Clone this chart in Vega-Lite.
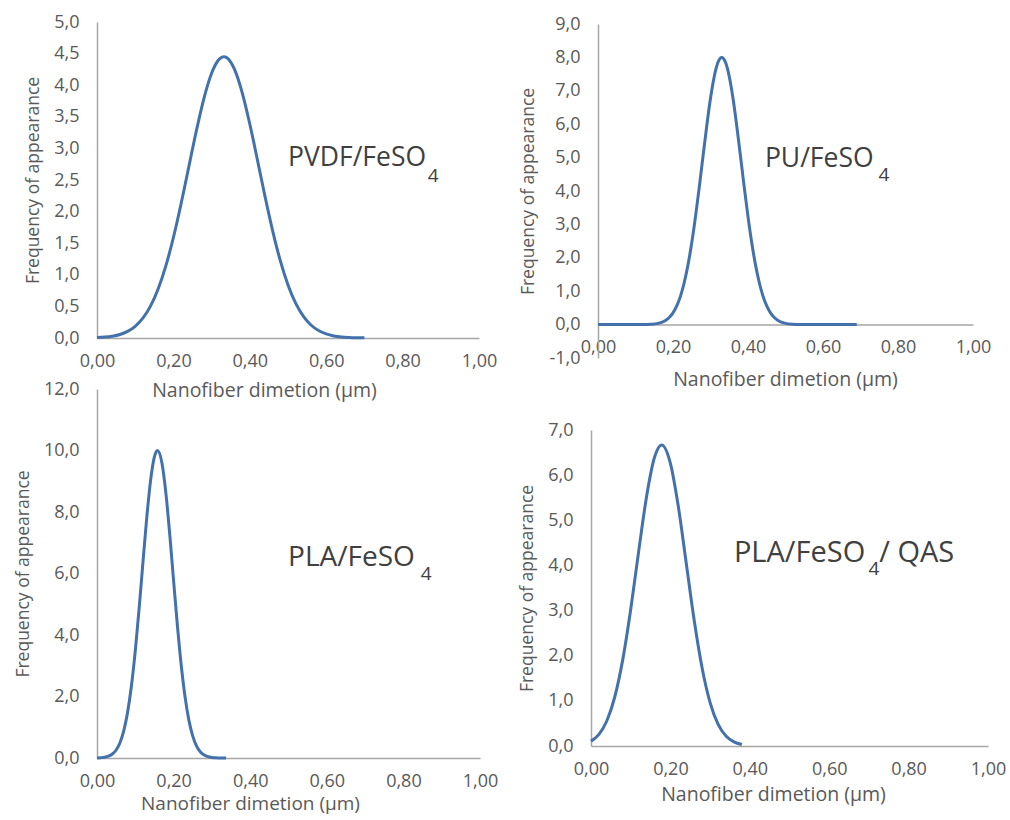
{
  "$schema": "https://vega.github.io/schema/vega-lite/v6.json",
  "padding": {"left": 14, "top": 13, "right": 0, "bottom": 2},
  "config": {
    "locale": {"number": {"decimal": ",", "thousands": ".", "grouping": [3], "currency": ["", ""], "minus": "-"}},
    "view": {"stroke": null},
    "font": "Open Sans",
    "axis": {"domainColor": "#A6A6A6", "domainWidth": 1.5, "ticks": false, "tickSize": 0, "grid": false, "labelColor": "#595959", "titleColor": "#595959", "labelFont": "Open Sans", "titleFont": "Open Sans", "labelFontSize": 18, "titleFontWeight": "normal", "labelFlush": false, "labelOverlap": false},
    "axisX": {"labelPadding": 14, "titlePadding": 13, "titleFontSize": 19.5},
    "axisY": {"labelPadding": 18, "titlePadding": 11, "titleFontSize": 17.5}
  },
  "columns": 2,
  "align": "none",
  "bounds": "flush",
  "spacing": {"row": 10, "column": 111},
  "concat": [
    {
      "width": 382, "height": 316,
      "encoding": {
        "x": {"field": "x", "type": "quantitative", "scale": {"domain": [0, 1]}, "axis": {"values": [0, 0.2, 0.4, 0.6, 0.8, 1], "format": ".2f", "title": "Nanofiber dimetion (µm)", "titleX": 167, "titlePadding": 11}},
        "y": {"field": "y", "type": "quantitative", "scale": {"domain": [0, 5]}, "axis": {"values": [0, 0.5, 1, 1.5, 2, 2.5, 3, 3.5, 4, 4.5, 5], "format": ".1f", "title": "Frequency of appearance"}}
      },
      "layer": [
        {
          "data": {"values": [
            {"x": 0, "y": 0.007}, {"x": 0.02, "y": 0.014}, {"x": 0.04, "y": 0.029}, {"x": 0.06, "y": 0.056}, {"x": 0.08, "y": 0.105}, {"x": 0.10, "y": 0.185}, {"x": 0.12, "y": 0.313}, {"x": 0.14, "y": 0.504}, {"x": 0.16, "y": 0.775}, {"x": 0.18, "y": 1.137}, {"x": 0.20, "y": 1.59}, {"x": 0.22, "y": 2.121}, {"x": 0.24, "y": 2.699}, {"x": 0.26, "y": 3.276}, {"x": 0.28, "y": 3.793}, {"x": 0.30, "y": 4.189}, {"x": 0.32, "y": 4.412}, {"x": 0.332, "y": 4.45}, {"x": 0.34, "y": 4.433}, {"x": 0.36, "y": 4.249}, {"x": 0.38, "y": 3.884}, {"x": 0.40, "y": 3.386}, {"x": 0.42, "y": 2.816}, {"x": 0.44, "y": 2.234}, {"x": 0.46, "y": 1.691}, {"x": 0.48, "y": 1.22}, {"x": 0.50, "y": 0.84}, {"x": 0.52, "y": 0.551}, {"x": 0.54, "y": 0.345}, {"x": 0.56, "y": 0.206}, {"x": 0.58, "y": 0.118}, {"x": 0.60, "y": 0.064}, {"x": 0.62, "y": 0.033}, {"x": 0.64, "y": 0.016}, {"x": 0.66, "y": 0.008}, {"x": 0.68, "y": 0.004}, {"x": 0.70, "y": 0.002}
          ]},
          "mark": {"type": "line", "interpolate": "monotone", "strokeWidth": 3, "color": "#4271AC"}
        },
        {
          "data": {"values": [{"x": 0.5, "y": 2.72, "label": "PVDF/FeSO"}]},
          "mark": {"type": "text", "align": "left", "baseline": "alphabetic", "fontSize": 26.5, "color": "#404040", "font": "Open Sans"},
          "encoding": {"text": {"field": "label"}}
        },
        {
          "data": {"values": [{"x": 0.866, "y": 2.47, "label": "4"}]},
          "mark": {"type": "text", "align": "left", "baseline": "alphabetic", "fontSize": 19, "color": "#404040", "font": "Open Sans"},
          "encoding": {"text": {"field": "label"}}
        }
      ]
    },
    {
      "width": 382, "height": 357,
      "encoding": {
        "x": {"field": "x", "type": "quantitative", "scale": {"domain": [0, 1], "range": [7, 382]}, "axis": {"values": [0, 0.2, 0.4, 0.6, 0.8, 1], "format": ".2f", "title": "Nanofiber dimetion (µm)", "offset": -54.4, "titleX": 194, "titlePadding": 14}},
        "y": {"field": "y", "type": "quantitative", "scale": {"domain": [-1, 9], "range": [336, 2]}, "axis": {"values": [-1, 0, 1, 2, 3, 4, 5, 6, 7, 8, 9], "format": ".1f", "title": "Frequency of appearance", "offset": -7}}
      },
      "layer": [
        {
          "data": {"values": [
            {"x": 0, "y": 0}, {"x": 0.05, "y": 0}, {"x": 0.10, "y": 0}, {"x": 0.12, "y": 0.002}, {"x": 0.14, "y": 0.01}, {"x": 0.16, "y": 0.038}, {"x": 0.18, "y": 0.125}, {"x": 0.19, "y": 0.213}, {"x": 0.20, "y": 0.351}, {"x": 0.21, "y": 0.558}, {"x": 0.22, "y": 0.853}, {"x": 0.23, "y": 1.26}, {"x": 0.24, "y": 1.789}, {"x": 0.25, "y": 2.45}, {"x": 0.26, "y": 3.233}, {"x": 0.27, "y": 4.11}, {"x": 0.28, "y": 5.038}, {"x": 0.29, "y": 5.95}, {"x": 0.30, "y": 6.774}, {"x": 0.31, "y": 7.43}, {"x": 0.32, "y": 7.854}, {"x": 0.33, "y": 8.0}, {"x": 0.34, "y": 7.854}, {"x": 0.35, "y": 7.43}, {"x": 0.36, "y": 6.774}, {"x": 0.37, "y": 5.95}, {"x": 0.38, "y": 5.038}, {"x": 0.39, "y": 4.11}, {"x": 0.40, "y": 3.233}, {"x": 0.41, "y": 2.45}, {"x": 0.42, "y": 1.789}, {"x": 0.43, "y": 1.26}, {"x": 0.44, "y": 0.853}, {"x": 0.45, "y": 0.558}, {"x": 0.46, "y": 0.351}, {"x": 0.47, "y": 0.213}, {"x": 0.48, "y": 0.125}, {"x": 0.50, "y": 0.038}, {"x": 0.52, "y": 0.01}, {"x": 0.54, "y": 0.002}, {"x": 0.56, "y": 0}, {"x": 0.60, "y": 0}, {"x": 0.65, "y": 0}, {"x": 0.69, "y": 0}
          ]},
          "mark": {"type": "line", "interpolate": "monotone", "strokeWidth": 3, "color": "#4271AC"}
        },
        {
          "data": {"values": [{"x": 0.445, "y": 4.72, "label": "PU/FeSO"}]},
          "mark": {"type": "text", "align": "left", "baseline": "alphabetic", "fontSize": 26.5, "color": "#404040", "font": "Open Sans"},
          "encoding": {"text": {"field": "label"}}
        },
        {
          "data": {"values": [{"x": 0.748, "y": 4.3, "label": "4"}]},
          "mark": {"type": "text", "align": "left", "baseline": "alphabetic", "fontSize": 19, "color": "#404040", "font": "Open Sans"},
          "encoding": {"text": {"field": "label"}}
        }
      ]
    },
    {
      "width": 383, "height": 369,
      "encoding": {
        "x": {"field": "x", "type": "quantitative", "scale": {"domain": [0, 1]}, "axis": {"values": [0, 0.2, 0.4, 0.6, 0.8, 1], "format": ".2f", "title": "Nanofiber dimetion (µm)", "titleX": 153, "titlePadding": 4, "titleFontSize": 19}},
        "y": {"field": "y", "type": "quantitative", "scale": {"domain": [0, 12]}, "axis": {"values": [0, 2, 4, 6, 8, 10, 12], "format": ".1f", "title": "Frequency of appearance"}}
      },
      "layer": [
        {
          "data": {"values": [
            {"x": 0, "y": 0.004}, {"x": 0.01, "y": 0.011}, {"x": 0.02, "y": 0.026}, {"x": 0.03, "y": 0.06}, {"x": 0.04, "y": 0.129}, {"x": 0.05, "y": 0.261}, {"x": 0.06, "y": 0.497}, {"x": 0.07, "y": 0.889}, {"x": 0.08, "y": 1.494}, {"x": 0.09, "y": 2.357}, {"x": 0.10, "y": 3.495}, {"x": 0.11, "y": 4.868}, {"x": 0.12, "y": 6.368}, {"x": 0.13, "y": 7.827}, {"x": 0.14, "y": 9.037}, {"x": 0.15, "y": 9.802}, {"x": 0.158, "y": 10.0}, {"x": 0.17, "y": 9.56}, {"x": 0.18, "y": 8.596}, {"x": 0.19, "y": 7.261}, {"x": 0.20, "y": 5.762}, {"x": 0.21, "y": 4.296}, {"x": 0.22, "y": 3.009}, {"x": 0.23, "y": 1.979}, {"x": 0.24, "y": 1.223}, {"x": 0.25, "y": 0.71}, {"x": 0.26, "y": 0.387}, {"x": 0.27, "y": 0.198}, {"x": 0.28, "y": 0.096}, {"x": 0.29, "y": 0.043}, {"x": 0.30, "y": 0.018}, {"x": 0.31, "y": 0.007}, {"x": 0.32, "y": 0.003}, {"x": 0.337, "y": 0.0}
          ]},
          "mark": {"type": "line", "interpolate": "monotone", "strokeWidth": 3, "color": "#4271AC"}
        },
        {
          "data": {"values": [{"x": 0.499, "y": 6.24, "label": "PLA/FeSO"}]},
          "mark": {"type": "text", "align": "left", "baseline": "alphabetic", "fontSize": 28, "color": "#404040", "font": "Open Sans"},
          "encoding": {"text": {"field": "label"}}
        },
        {
          "data": {"values": [{"x": 0.845, "y": 5.79, "label": "4"}]},
          "mark": {"type": "text", "align": "left", "baseline": "alphabetic", "fontSize": 19, "color": "#404040", "font": "Open Sans"},
          "encoding": {"text": {"field": "label"}}
        }
      ]
    },
    {
      "width": 397, "height": 357,
      "encoding": {
        "x": {"field": "x", "type": "quantitative", "scale": {"domain": [0, 1]}, "axis": {"values": [0, 0.2, 0.4, 0.6, 0.8, 1], "format": ".2f", "title": "Nanofiber dimetion (µm)", "titleX": 182, "titlePadding": 7}},
        "y": {"field": "y", "type": "quantitative", "scale": {"domain": [0, 7], "range": [357, 41]}, "axis": {"values": [0, 1, 2, 3, 4, 5, 6, 7], "format": ".1f", "title": "Frequency of appearance", "titleY": 199}}
      },
      "layer": [
        {
          "data": {"values": [
            {"x": 0, "y": 0.108}, {"x": 0.02, "y": 0.259}, {"x": 0.04, "y": 0.56}, {"x": 0.06, "y": 1.091}, {"x": 0.08, "y": 1.913}, {"x": 0.10, "y": 3.023}, {"x": 0.12, "y": 4.306}, {"x": 0.14, "y": 5.528}, {"x": 0.16, "y": 6.395}, {"x": 0.178, "y": 6.67}, {"x": 0.20, "y": 6.263}, {"x": 0.22, "y": 5.303}, {"x": 0.24, "y": 4.046}, {"x": 0.26, "y": 2.781}, {"x": 0.28, "y": 1.724}, {"x": 0.30, "y": 0.962}, {"x": 0.32, "y": 0.484}, {"x": 0.34, "y": 0.219}, {"x": 0.36, "y": 0.09}, {"x": 0.38, "y": 0.033}
          ]},
          "mark": {"type": "line", "interpolate": "monotone", "strokeWidth": 3, "color": "#4271AC"}
        },
        {
          "data": {"values": [{"x": 0.36, "y": 4.08, "label": "PLA/FeSO"}, {"x": 0.726, "y": 4.08, "label": "/ QAS"}]},
          "mark": {"type": "text", "align": "left", "baseline": "alphabetic", "fontSize": 29, "color": "#404040", "font": "Open Sans"},
          "encoding": {"text": {"field": "label"}}
        },
        {
          "data": {"values": [{"x": 0.699, "y": 3.79, "label": "4"}]},
          "mark": {"type": "text", "align": "left", "baseline": "alphabetic", "fontSize": 19, "color": "#404040", "font": "Open Sans"},
          "encoding": {"text": {"field": "label"}}
        }
      ]
    }
  ]
}
